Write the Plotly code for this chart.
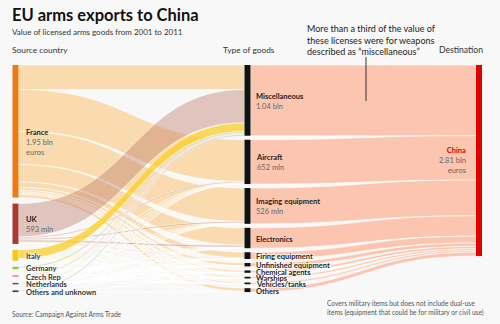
import plotly.graph_objects as go

# ---------------- data (million euros, 2001-2011) ----------------
countries = ["France", "UK", "Italy", "Germany", "Czech Rep", "Netherlands", "Others and unknown"]
country_value_text = ["1.95 bln<br>euros", "593 mln", "", "", "", "", ""]
goods = ["Miscellaneous", "Aircraft", "Imaging equipment", "Electronics", "Firing equipment",
         "Unfinished equipment", "Chemical agents", "Warships", "Vehicles/tanks", "Others"]
goods_value_text = ["1.04 bln", "652 mln", "526 mln", "", "", "", "", "", "", ""]
destination = "China"
destination_value_text = "2.81 bln<br>euros"

# rows = countries, columns = goods
flow_france = [361, 615, 490, 255, 82, 38, 27, 18, 19, 45]
flow_uk = [490, 20, 25, 30, 10, 6, 4, 3, 2, 3]
flow_italy = [130, 8, 5, 7, 3, 2, 1, 1, 1, 2]
flow_germany = [20, 3, 2, 3, 2, 1, 1, 1, 1, 1]
flow_czech = [12, 2, 2, 2, 1, 1, 1, 1, 1, 2]
flow_netherlands = [10, 2, 1, 2, 1, 1, 1, 0, 1, 3]
flow_others = [17, 2, 1, 1, 1, 1, 0, 1, 0, 1]
flows = [flow_france, flow_uk, flow_italy, flow_germany, flow_czech, flow_netherlands, flow_others]

# ---------------- styles ----------------
W, H = 500, 324
FONT = "Lato"
BG = "#f8f8f8"
country_node_colors = ["#ef7a10", "#a83a30", "#f6c81a", "#8cc63f", "#f08a8a", "#5a5a5a", "#444444"]
country_link_colors = ["rgba(252,200,130,0.62)", "rgba(185,120,100,0.40)", "rgba(250,205,30,0.72)",
                       "rgba(140,190,60,0.55)", "rgba(235,110,110,0.55)", "rgba(110,110,110,0.45)",
                       "rgba(140,140,140,0.45)"]
goods_node_color = "#111111"
goods_link_color = "rgba(253,178,148,0.72)"
dest_color = "#e00000"

top_px = 65
pad = 4
ky = 0.068  # px per million euros
total = sum(sum(r) for r in flows)
dom_h = ky * total + (len(goods) - 1) * pad
bottom_px = top_px + dom_h
x_left, x_mid, x_right = 15.5, 247.5, 479.0
left_gap = (dom_h - ky * total) / (len(countries) - 1)

country_totals = [sum(r) for r in flows]
goods_totals = [sum(r[j] for r in flows) for j in range(len(goods))]


def stack_centers(values, gap):
    centers, y = [], top_px
    for v in values:
        h = v * ky
        centers.append(y + h / 2)
        y += h + gap
    return centers


c_left = stack_centers(country_totals, left_gap)
c_mid = stack_centers(goods_totals, pad)
c_right = [top_px + total * ky / 2]

labels = countries + goods + [destination]
node_x = [x_left / W] * len(countries) + [x_mid / W] * len(goods) + [x_right / W]
node_y = [(c - top_px) / dom_h for c in c_left + c_mid + c_right]
node_y = [max(v, 1e-4) for v in node_y]
node_colors = country_node_colors + [goods_node_color] * len(goods) + [dest_color]

src, tgt, val, lcol = [], [], [], []
nC, nG = len(countries), len(goods)
for i, row in enumerate(flows):
    for j, v in enumerate(row):
        if v > 0:
            src.append(i); tgt.append(nC + j); val.append(v); lcol.append(country_link_colors[i])
for j, v in enumerate(goods_totals):
    src.append(nC + j); tgt.append(nC + nG); val.append(v); lcol.append(goods_link_color)

fig = go.Figure(go.Sankey(
    arrangement="fixed",
    domain=dict(x=[0, 1], y=[1 - bottom_px / H, 1 - top_px / H]),
    node=dict(label=[""] * len(labels), x=node_x, y=node_y, pad=pad, thickness=6,
              color=node_colors, line=dict(width=0)),
    link=dict(source=src, target=tgt, value=val, color=lcol,
              line=dict(color="rgba(255,255,255,0.9)", width=0.6)),
    hoverinfo="none",
))

HALO = "1px 0px 1px #fff, -1px 0px 1px #fff, 0px 1px 1px #fff, 0px -1px 1px #fff"
LBL = 7.5


def ann(x, y, text, size=8, color="#222", xanchor="left", yanchor="middle", align="left", shadow=None):
    f = dict(family=FONT, size=size, color=color)
    if shadow:
        f["shadow"] = shadow
    fig.add_annotation(x=x / W, y=1 - y / H, xref="paper", yref="paper", text=text, showarrow=False,
                       xanchor=xanchor, yanchor=yanchor, align=align, font=f)


# title / headers
ann(10, 15, "<b>EU arms exports to China</b>", size=16.5, color="#111")
ann(10, 32, "Value of licensed arms goods from 2001 to 2011", size=8, color="#333")
ann(10, 50, "Source country", size=8.4, color="#333")
ann(221, 50, "Type of goods", size=8.4, color="#333")
ann(437, 50, "Destination", size=8.6, color="#333")
ann(305, 40, "More than a third of the value of<br>these licenses were for weapons<br>described as \u201cmiscellaneous\u201d",
    size=9, color="#222")
fig.add_shape(type="line", xref="paper", yref="paper", x0=366 / W, x1=366 / W, y0=1 - 57 / H, y1=1 - 101 / H,
              line=dict(color="#333", width=1))

# country labels
for i, name in enumerate(countries):
    yc = c_left[i]
    if country_value_text[i]:
        txt = f"<b>{name}</b><br><span style='color:#666'>{country_value_text[i]}</span>"
        shift = 11 if i == 0 else 1
        ann(24, yc + shift, txt, size=LBL)
    else:
        ann(24, yc + 1, f"<b>{name}</b>", size=LBL, color="#333", shadow=HALO)

# goods labels
for j, name in enumerate(goods):
    yc = c_mid[j]
    if goods_value_text[j]:
        ann(254, yc + 1, f"<b>{name}</b><br><span style='color:#666'>{goods_value_text[j]}</span>", size=LBL)
    else:
        ann(254, yc + 1, f"<b>{name}</b>", size=LBL, color="#222", shadow=HALO if goods_totals[j] < 200 else None)

# destination label
ann(468, c_right[0], f"<b><span style='color:{dest_color}'>{destination}</span></b><br>"
    f"<span style='color:#666'>{destination_value_text}</span>", size=LBL, xanchor="right", align="right")

# footer
ann(10, 314, "Source: Campaign Against Arms Trade", size=6.6, color="#555")
ann(325, 308, "Covers military items but does not include dual-use<br>items (equipment that could be for military or civil use)",
    size=6.6, color="#555")

fig.update_layout(width=W, height=H, margin=dict(l=0, r=0, t=0, b=0),
                  paper_bgcolor=BG, plot_bgcolor=BG, font=dict(family=FONT))
fig.write_html("out.html")
